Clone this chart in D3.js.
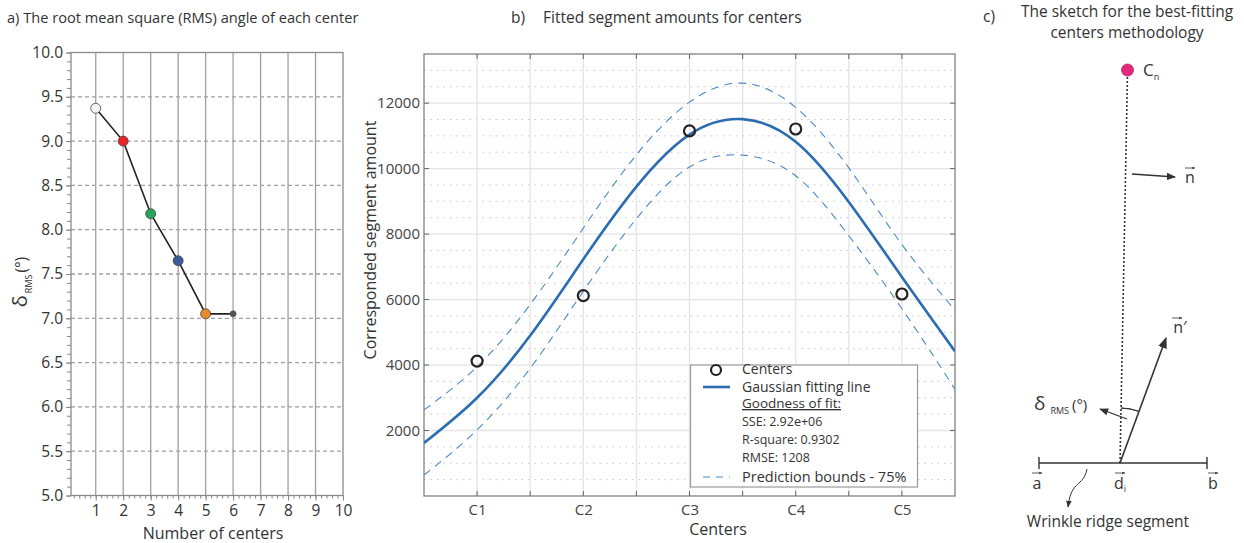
<!DOCTYPE html>
<html>
<head>
<meta charset="utf-8">
<script src="https://cdn.jsdelivr.net/npm/d3@7"></script>
<style>
  body { margin: 0; background: #fff; }
  svg { font-family: "Open Sans", "Noto Sans", sans-serif; }
</style>
</head>
<body>
<svg id="chart" width="1244" height="543"></svg>
<script>
// ---- data ----
// panel a: RMS angle by number of centers
const rmsCenters = [1, 2, 3, 4, 5, 6];
const rmsValues = [9.37, 9.0, 8.18, 7.65, 7.05, 7.05];
const rmsColors = ["#f4f4f4", "#e8232a", "#27a35a", "#3b5a9a", "#e88a2e", "#555555"];
const rmsXTicks = [1, 2, 3, 4, 5, 6, 7, 8, 9, 10];
const rmsYTicks = [5.0, 5.5, 6.0, 6.5, 7.0, 7.5, 8.0, 8.5, 9.0, 9.5, 10.0];

// panel b: segment amount per center and the gaussian fit (read along x)
const centerLabels = ["C1", "C2", "C3", "C4", "C5"];
const segmentAmounts = [4120, 6120, 11150, 11210, 6170];
const fitX = [0.5, 1, 1.5, 2, 2.5, 3, 3.5, 4, 4.5, 5, 5.5];
const fitValues = [1620, 3000, 4900, 7230, 9450, 11040, 11510, 10820, 8980, 6690, 4420];
const upperBound = [2630, 3950, 5850, 8180, 10420, 12030, 12610, 11870, 10020, 7680, 5680];
const lowerBound = [640, 2020, 3900, 6250, 8470, 10050, 10410, 9780, 7950, 5720, 3260];
const segYTicks = [2000, 4000, 6000, 8000, 10000, 12000];
const fitStats = ["SSE: 2.92e+06", "R-square: 0.9302", "RMSE: 1208"];

const svg = d3.select("#chart");
const textColor = "#333";

// arrowhead markers for the sketch
const defs = svg.append("defs");
defs.append("marker")
  .attr("id", "arrow")
  .attr("viewBox", "0 -5 10 10")
  .attr("refX", 9).attr("refY", 0)
  .attr("markerWidth", 7).attr("markerHeight", 7)
  .attr("orient", "auto")
  .append("path").attr("d", "M0,-4L10,0L0,4Z").attr("fill", "#333");
defs.append("marker")
  .attr("id", "arrowSmall")
  .attr("viewBox", "0 -5 10 10")
  .attr("refX", 9).attr("refY", 0)
  .attr("markerWidth", 4).attr("markerHeight", 4)
  .attr("orient", "auto")
  .append("path").attr("d", "M0,-4L10,0L0,4Z").attr("fill", "#444");

// =================== panel a ===================
const xA = d3.scaleLinear().domain([0.1, 10]).range([71, 343]);
const yA = d3.scaleLinear().domain([5, 10]).range([495.5, 52.5]);
const gA = svg.append("g");

svg.append("text").attr("x", 7).attr("y", 23)
  .attr("font-size", 14.6).attr("fill", textColor)
  .text("a)  The root mean square (RMS) angle of each center");

// vertical grid
gA.selectAll(".vgrid").data(rmsXTicks.slice(0, -1)).enter().append("line")
  .attr("x1", d => xA(d)).attr("x2", d => xA(d))
  .attr("y1", yA(10)).attr("y2", yA(5))
  .attr("stroke", "#a0a0a0").attr("stroke-width", 1.3);
// horizontal dashed grid
gA.selectAll(".hgrid").data(rmsYTicks.slice(1, -1)).enter().append("line")
  .attr("x1", xA(0.1)).attr("x2", xA(10))
  .attr("y1", d => yA(d)).attr("y2", d => yA(d))
  .attr("stroke", "#a0a0a0").attr("stroke-width", 1.3)
  .attr("stroke-dasharray", "4,3");
// frame
gA.append("rect")
  .attr("x", xA(0.1)).attr("y", yA(10))
  .attr("width", xA(10) - xA(0.1)).attr("height", yA(5) - yA(10))
  .attr("fill", "none").attr("stroke", "#8a8a8a").attr("stroke-width", 1.3);

// axes with minor ticks
const axAL = gA.append("g").attr("transform", `translate(${xA(0.1)},0)`)
  .call(d3.axisLeft(yA).tickValues(d3.range(5, 10.001, 0.1)).tickSize(4).tickFormat(""));
axAL.selectAll("line").attr("stroke", "#888");
axAL.select(".domain").remove();
const axALmaj = gA.append("g").attr("transform", `translate(${xA(0.1)},0)`)
  .call(d3.axisLeft(yA).tickValues(rmsYTicks).tickSize(5).tickFormat(d3.format(".1f")));
axALmaj.select(".domain").remove();
axALmaj.selectAll("line").attr("stroke", "#888");
axALmaj.selectAll("text").attr("font-size", 15.5).attr("fill", textColor)
  .attr("font-family", "Open Sans").attr("x", -8);

const axAB = gA.append("g").attr("transform", `translate(0,${yA(5)})`)
  .call(d3.axisBottom(xA).tickValues(d3.range(0.2, 10.001, 0.2)).tickSize(3).tickFormat(""));
axAB.select(".domain").remove();
axAB.selectAll("line").attr("stroke", "#888");
const axABmaj = gA.append("g").attr("transform", `translate(0,${yA(5)})`)
  .call(d3.axisBottom(xA).tickValues(rmsXTicks).tickSize(5));
axABmaj.select(".domain").remove();
axABmaj.selectAll("line").attr("stroke", "#888");
axABmaj.selectAll("text").attr("font-size", 15.5).attr("fill", textColor)
  .attr("font-family", "Open Sans").attr("y", 9);

// line + points
const rmsData = rmsCenters.map((c, i) => ({ c, v: rmsValues[i], col: rmsColors[i] }));
gA.append("path").datum(rmsData)
  .attr("d", d3.line().x(d => xA(d.c)).y(d => yA(d.v)))
  .attr("fill", "none").attr("stroke", "#222").attr("stroke-width", 1.6);
gA.selectAll(".pt").data(rmsData).enter().append("circle")
  .attr("cx", d => xA(d.c)).attr("cy", d => yA(d.v))
  .attr("r", (d, i) => i === rmsData.length - 1 ? 3 : 5)
  .attr("fill", d => d.col)
  .attr("stroke", (d, i) => i === rmsData.length - 1 ? "#555" : "#444")
  .attr("stroke-width", 0.8);

// axis titles
svg.append("text").attr("x", 213).attr("y", 539).attr("text-anchor", "middle")
  .attr("font-size", 16).attr("fill", textColor).text("Number of centers");
const yTitleA = svg.append("text")
  .attr("transform", "translate(27,282) rotate(-90)")
  .attr("text-anchor", "middle").attr("fill", textColor);
yTitleA.append("tspan").attr("font-size", 20).text("δ");
yTitleA.append("tspan").attr("font-size", 9).attr("dy", 5).attr("dx", 2).text("RMS");
yTitleA.append("tspan").attr("font-size", 15.5).attr("dy", -5).attr("dx", 2).text("(°)");

// =================== panel b ===================
const xB = d3.scaleLinear().domain([0.5, 5.5]).range([424, 955]);
const yB = d3.scaleLinear().domain([0, 13500]).range([496, 54]);
const gB = svg.append("g");

svg.append("text").attr("x", 511).attr("y", 23).attr("font-size", 15.5).attr("fill", textColor)
  .text("b)");
svg.append("text").attr("x", 543).attr("y", 23).attr("font-size", 15.5).attr("fill", textColor)
  .text("Fitted segment amounts for centers");

// minor dotted horizontal grid (every 500)
gB.selectAll(".minor").data(d3.range(500, 13500, 500).filter(v => v % 2000 !== 0)).enter().append("line")
  .attr("x1", xB(0.5)).attr("x2", xB(5.5))
  .attr("y1", d => yB(d)).attr("y2", d => yB(d))
  .attr("stroke", "#c8c8c8").attr("stroke-width", 1)
  .attr("stroke-dasharray", "1.5,5");
// major grid
gB.selectAll(".hmaj").data(segYTicks).enter().append("line")
  .attr("x1", xB(0.5)).attr("x2", xB(5.5))
  .attr("y1", d => yB(d)).attr("y2", d => yB(d))
  .attr("stroke", "#e4e4e4").attr("stroke-width", 1.3);
gB.selectAll(".vmaj").data(d3.range(1, 5.01, 0.5)).enter().append("line")
  .attr("x1", d => xB(d)).attr("x2", d => xB(d))
  .attr("y1", yB(13500)).attr("y2", yB(0))
  .attr("stroke", "#e4e4e4").attr("stroke-width", 1.3);

// inward ticks on all four sides
const tickCol = "#666";
gB.selectAll(".tb").data(d3.range(1, 5.01, 0.5)).enter().append("line")
  .attr("x1", d => xB(d)).attr("x2", d => xB(d))
  .attr("y1", yB(0)).attr("y2", yB(0) - 5).attr("stroke", tickCol);
gB.selectAll(".tt").data(d3.range(1, 5.01, 0.5)).enter().append("line")
  .attr("x1", d => xB(d)).attr("x2", d => xB(d))
  .attr("y1", yB(13500)).attr("y2", yB(13500) + 5).attr("stroke", tickCol);
gB.selectAll(".tl").data(segYTicks).enter().append("line")
  .attr("x1", xB(0.5)).attr("x2", xB(0.5) + 5)
  .attr("y1", d => yB(d)).attr("y2", d => yB(d)).attr("stroke", tickCol);
gB.selectAll(".tr").data(segYTicks).enter().append("line")
  .attr("x1", xB(5.5)).attr("x2", xB(5.5) - 5)
  .attr("y1", d => yB(d)).attr("y2", d => yB(d)).attr("stroke", tickCol);

// tick labels via axes
const axBL = gB.append("g").attr("transform", `translate(${xB(0.5)},0)`)
  .call(d3.axisLeft(yB).tickValues(segYTicks).tickSize(0).tickPadding(4).tickFormat(d3.format("d")));
axBL.select(".domain").remove();
axBL.selectAll("text").attr("font-size", 15).attr("fill", "#444").attr("font-family", "Open Sans");
const axBB = gB.append("g").attr("transform", `translate(0,${yB(0)})`)
  .call(d3.axisBottom(xB).tickValues([1, 2, 3, 4, 5]).tickSize(0).tickPadding(8)
    .tickFormat((d, i) => centerLabels[i]));
axBB.select(".domain").remove();
axBB.selectAll("text").attr("font-size", 15).attr("fill", "#444").attr("font-family", "Open Sans");

// frame
gB.append("rect")
  .attr("x", xB(0.5)).attr("y", yB(13500))
  .attr("width", xB(5.5) - xB(0.5)).attr("height", yB(0) - yB(13500))
  .attr("fill", "none").attr("stroke", "#777").attr("stroke-width", 1.2);

// clip for curves
defs.append("clipPath").attr("id", "clipB").append("rect")
  .attr("x", xB(0.5)).attr("y", yB(13500))
  .attr("width", xB(5.5) - xB(0.5)).attr("height", yB(0) - yB(13500));

const curve = d3.line().x(d => xB(d[0])).y(d => yB(d[1])).curve(d3.curveNatural);
const fitColor = "#2b6cb3";
const boundColor = "#4d88c9";
const gCurves = gB.append("g").attr("clip-path", "url(#clipB)");
[upperBound, lowerBound].forEach(b => {
  gCurves.append("path").datum(fitX.map((x, i) => [x, b[i]]))
    .attr("d", curve).attr("fill", "none")
    .attr("stroke", boundColor).attr("stroke-width", 1.1)
    .attr("stroke-dasharray", "8,6");
});
gCurves.append("path").datum(fitX.map((x, i) => [x, fitValues[i]]))
  .attr("d", curve).attr("fill", "none")
  .attr("stroke", fitColor).attr("stroke-width", 2.6);

gB.selectAll(".center").data(segmentAmounts).enter().append("circle")
  .attr("cx", (d, i) => xB(i + 1)).attr("cy", d => yB(d))
  .attr("r", 5.5).attr("fill", "none")
  .attr("stroke", "#222").attr("stroke-width", 2.2);

// legend
const lg = gB.append("g");
lg.append("rect").attr("x", 690.5).attr("y", 365).attr("width", 227).attr("height", 122)
  .attr("fill", "#fff").attr("stroke", "#999").attr("stroke-width", 1.2);
lg.append("circle").attr("cx", 716).attr("cy", 370).attr("r", 5)
  .attr("fill", "none").attr("stroke", "#222").attr("stroke-width", 2.2);
lg.append("text").attr("x", 742).attr("y", 374).attr("font-size", 14).attr("fill", textColor).text("Centers");
lg.append("line").attr("x1", 703).attr("x2", 730).attr("y1", 387).attr("y2", 387)
  .attr("stroke", fitColor).attr("stroke-width", 2.6);
lg.append("text").attr("x", 742).attr("y", 392).attr("font-size", 14).attr("fill", textColor).text("Gaussian fitting line");
lg.append("text").attr("x", 742).attr("y", 408).attr("font-size", 13.5).attr("fill", textColor)
  .attr("text-decoration", "underline").text("Goodness of fit:");
lg.selectAll(".stat").data(fitStats).enter().append("text")
  .attr("x", 742).attr("y", (d, i) => 426 + i * 18)
  .attr("font-size", 12.5).attr("fill", textColor).text(d => d);
lg.append("line").attr("x1", 703).attr("x2", 730).attr("y1", 477).attr("y2", 477)
  .attr("stroke", boundColor).attr("stroke-width", 1.1).attr("stroke-dasharray", "7,6");
lg.append("text").attr("x", 742).attr("y", 482).attr("font-size", 14.5).attr("fill", textColor)
  .text("Prediction bounds - 75%");

// axis titles
svg.append("text").attr("x", 718).attr("y", 535).attr("text-anchor", "middle")
  .attr("font-size", 16).attr("fill", textColor).text("Centers");
svg.append("text").attr("transform", "translate(376,240) rotate(-90)")
  .attr("text-anchor", "middle").attr("font-size", 16).attr("fill", textColor)
  .text("Corresponded segment amount");

// =================== panel c (sketch) ===================
const gC = svg.append("g").attr("fill", textColor);
gC.append("text").attr("x", 983).attr("y", 22).attr("font-size", 15.5).text("c)");
gC.append("text").attr("x", 1127).attr("y", 17).attr("text-anchor", "middle").attr("font-size", 15.5)
  .text("The sketch for the best-fitting");
gC.append("text").attr("x", 1127).attr("y", 38).attr("text-anchor", "middle").attr("font-size", 15.5)
  .text("centers methodology");

// dotted line from Cn down to d_i
gC.append("line").attr("x1", 1127.5).attr("y1", 73).attr("x2", 1120).attr("y2", 463)
  .attr("stroke", "#333").attr("stroke-width", 1.6).attr("stroke-dasharray", "2,2");
gC.append("circle").attr("cx", 1127.5).attr("cy", 70).attr("r", 6)
  .attr("fill", "#e3287a").attr("stroke", "#c21e63").attr("stroke-width", 0.8);
const cn = gC.append("text").attr("x", 1143).attr("y", 76).attr("font-size", 17);
cn.append("tspan").text("C");
cn.append("tspan").attr("font-size", 9).attr("dy", 4).text("n");

// n arrow
gC.append("line").attr("x1", 1132).attr("y1", 174).attr("x2", 1175).attr("y2", 177)
  .attr("stroke", "#333").attr("stroke-width", 1.3).attr("marker-end", "url(#arrow)");
gC.append("text").attr("x", 1190).attr("y", 183).attr("text-anchor", "middle").attr("font-size", 16).text("n");
gC.append("line").attr("x1", 1185).attr("x2", 1195).attr("y1", 168).attr("y2", 168)
  .attr("stroke", "#333").attr("stroke-width", 0.8).attr("marker-end", "url(#arrowSmall)");

// n' arrow
gC.append("line").attr("x1", 1120).attr("y1", 463).attr("x2", 1166).attr("y2", 338)
  .attr("stroke", "#333").attr("stroke-width", 1.6).attr("marker-end", "url(#arrow)");
gC.append("text").attr("x", 1180).attr("y", 333).attr("text-anchor", "middle").attr("font-size", 16).text("n′");
gC.append("line").attr("x1", 1172).attr("x2", 1182).attr("y1", 318).attr("y2", 318)
  .attr("stroke", "#333").attr("stroke-width", 0.8).attr("marker-end", "url(#arrowSmall)");

// angle arc between the two directions
const arcR = 55;
const a0 = Math.atan2(1127.5 - 1120, -(72 - 463));
const a1 = Math.atan2(1166 - 1120, -(338 - 463));
gC.append("path")
  .attr("d", d3.arc().innerRadius(arcR).outerRadius(arcR).startAngle(a0).endAngle(a1)())
  .attr("transform", "translate(1120,463)")
  .attr("fill", "none").attr("stroke", "#333").attr("stroke-width", 1);
gC.append("line").attr("x1", 1127).attr("y1", 419).attr("x2", 1100).attr("y2", 409)
  .attr("stroke", "#333").attr("stroke-width", 1.3).attr("marker-end", "url(#arrow)");
const dl = gC.append("text").attr("x", 1034).attr("y", 410);
dl.append("tspan").attr("font-size", 19).text("δ");
dl.append("tspan").attr("font-size", 9).attr("dx", 5).attr("dy", 4).text("RMS");
dl.append("tspan").attr("font-size", 15).attr("dx", 3).attr("dy", -4).text("(°)");

// wrinkle ridge segment
gC.append("line").attr("x1", 1039).attr("x2", 1207).attr("y1", 463).attr("y2", 463)
  .attr("stroke", "#333").attr("stroke-width", 1.6);
[1039, 1207].forEach(x => gC.append("line").attr("x1", x).attr("x2", x).attr("y1", 457).attr("y2", 469)
  .attr("stroke", "#333").attr("stroke-width", 1.4));
[["a", 1037], ["d", 1120], ["b", 1213]].forEach(([t, x]) => {
  const tx = gC.append("text").attr("x", x).attr("y", 489).attr("text-anchor", "middle").attr("font-size", 16);
  tx.append("tspan").text(t);
  if (t === "d") tx.append("tspan").attr("font-size", 9).attr("dy", 3).text("i");
  gC.append("line").attr("x1", x - 5).attr("x2", x + 5).attr("y1", 473).attr("y2", 473)
    .attr("stroke", "#333").attr("stroke-width", 0.8).attr("marker-end", "url(#arrowSmall)");
});
// curly pointer
gC.append("path").attr("d", "M1087,469 C1085,480 1079,482 1075,487 C1070,493 1069,500 1068,507")
  .attr("fill", "none").attr("stroke", "#333").attr("stroke-width", 1)
  .attr("marker-end", "url(#arrow)");
gC.append("text").attr("x", 1108).attr("y", 527).attr("text-anchor", "middle").attr("font-size", 15.5)
  .text("Wrinkle ridge segment");
</script>
</body>
</html>
